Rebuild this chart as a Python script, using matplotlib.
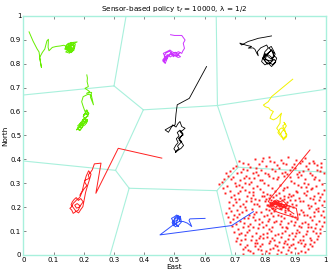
import numpy as np
import matplotlib
matplotlib.use("Agg")
import matplotlib.pyplot as plt

# ---------------- data ----------------
title = "Sensor-based policy t$_f$ = 10000, λ = 1/2"
x_ticks = [0, 0.1, 0.2, 0.3, 0.4, 0.5, 0.6, 0.7, 0.8, 0.9, 1]
y_ticks = [0, 0.1, 0.2, 0.3, 0.4, 0.5, 0.6, 0.7, 0.8, 0.9, 1]
tick_labels = ["0", "0.1", "0.2", "0.3", "0.4", "0.5", "0.6", "0.7", "0.8", "0.9", "1"]

# Voronoi cell boundaries (pairs of end points)
voronoi_segments = [
    ((0.34, 1.0), (0.30, 0.707)),
    ((0.0, 0.669), (0.30, 0.707)),
    ((0.30, 0.707), (0.397, 0.607)),
    ((0.397, 0.607), (0.642, 0.625)),
    ((0.642, 0.625), (0.638, 1.0)),
    ((0.642, 0.625), (1.0, 0.693)),
    ((0.397, 0.607), (0.305, 0.354)),
    ((0.0, 0.393), (0.305, 0.354)),
    ((0.305, 0.354), (0.35, 0.279)),
    ((0.35, 0.279), (0.287, 0.0)),
    ((0.35, 0.279), (0.64, 0.269)),
    ((0.64, 0.269), (0.711, 0.367)),
    ((0.711, 0.367), (1.0, 0.346)),
    ((0.711, 0.367), (0.642, 0.625)),
    ((0.64, 0.269), (0.69, 0.0)),
]

green1_x = [0.019, 0.032, 0.045, 0.052, 0.056, 0.060, 0.054, 0.063, 0.071, 0.078, 0.083, 0.082, 0.085,
            0.096, 0.109, 0.122, 0.134, 0.143, 0.137, 0.148, 0.140, 0.153, 0.159, 0.151, 0.164, 0.178,
            0.159, 0.148, 0.155, 0.145, 0.150, 0.160, 0.152, 0.146, 0.156, 0.162, 0.150, 0.142, 0.147,
            0.158, 0.168, 0.160, 0.152,
            0.145, 0.155, 0.149, 0.161, 0.170, 0.158, 0.151, 0.144, 0.139, 0.150, 0.163, 0.157, 0.146,
            0.153, 0.167, 0.172, 0.160, 0.149, 0.141, 0.152]
green1_y = [0.933, 0.895, 0.863, 0.849, 0.812, 0.784, 0.826, 0.847, 0.861, 0.895, 0.902, 0.868, 0.854,
            0.868, 0.872, 0.874, 0.877, 0.872, 0.861, 0.854, 0.849, 0.844, 0.861, 0.868, 0.881, 0.891,
            0.888, 0.877, 0.870, 0.862, 0.852, 0.858, 0.866, 0.858, 0.850, 0.864, 0.874, 0.866, 0.856,
            0.846, 0.876, 0.884, 0.872,
            0.867, 0.860, 0.853, 0.849, 0.870, 0.879, 0.886, 0.880, 0.866, 0.858, 0.862, 0.874, 0.870,
            0.848, 0.855, 0.881, 0.889, 0.883, 0.872, 0.864]

green2_x = [0.210, 0.212, 0.211, 0.215, 0.204, 0.220, 0.209, 0.226, 0.222, 0.232, 0.225, 0.214, 0.198,
            0.193, 0.198, 0.204, 0.210, 0.215, 0.206, 0.198, 0.204, 0.212, 0.209, 0.200, 0.193, 0.199,
            0.187, 0.182, 0.176, 0.183, 0.190, 0.196, 0.188, 0.180, 0.186, 0.194, 0.201, 0.195,
            0.205, 0.214, 0.208, 0.199, 0.210, 0.217, 0.206, 0.196, 0.203, 0.212, 0.200, 0.190, 0.185,
            0.192, 0.181, 0.178, 0.188, 0.196, 0.205, 0.211, 0.203, 0.194, 0.186, 0.180]
green2_y = [0.753, 0.740, 0.725, 0.704, 0.697, 0.683, 0.676, 0.680, 0.660, 0.628, 0.668, 0.672, 0.662,
            0.641, 0.621, 0.600, 0.607, 0.586, 0.590, 0.579, 0.570, 0.565, 0.552, 0.560, 0.551, 0.545,
            0.537, 0.530, 0.523, 0.530, 0.540, 0.548, 0.544, 0.528, 0.520, 0.532, 0.556, 0.562,
            0.575, 0.580, 0.595, 0.585, 0.604, 0.592, 0.571, 0.566, 0.558, 0.566, 0.547, 0.553, 0.541,
            0.533, 0.535, 0.527, 0.522, 0.537, 0.545, 0.558, 0.570, 0.560, 0.548, 0.540]

magenta_x = [0.487, 0.500, 0.524, 0.535, 0.529, 0.533, 0.527, 0.524, 0.513, 0.502, 0.492, 0.485, 0.474,
             0.463, 0.469, 0.461, 0.469, 0.474, 0.480, 0.488, 0.496, 0.505, 0.513, 0.520, 0.512, 0.500,
             0.490, 0.478, 0.470, 0.465,
             0.470, 0.478, 0.466, 0.472, 0.484, 0.493, 0.503, 0.510, 0.518, 0.509, 0.497, 0.486, 0.476,
             0.468, 0.462, 0.470]
magenta_y = [0.921, 0.918, 0.918, 0.899, 0.885, 0.864, 0.852, 0.843, 0.850, 0.843, 0.850, 0.857, 0.850,
             0.843, 0.829, 0.815, 0.801, 0.815, 0.836, 0.845, 0.829, 0.838, 0.836, 0.829, 0.826, 0.834,
             0.840, 0.832, 0.822, 0.808,
             0.815, 0.826, 0.832, 0.845, 0.852, 0.842, 0.848, 0.840, 0.846, 0.832, 0.838, 0.828, 0.838,
             0.820, 0.810, 0.804]

black1_x = [0.821, 0.800, 0.777, 0.760, 0.744, 0.722, 0.716, 0.730, 0.740, 0.755, 0.744, 0.760, 0.766,
            0.772, 0.777, 0.774, 0.785, 0.800, 0.805, 0.810, 0.799, 0.794, 0.788, 0.799, 0.810, 0.821,
            0.832, 0.838, 0.827, 0.821, 0.812, 0.804, 0.800, 0.815, 0.826, 0.818, 0.806, 0.795, 0.803,
            0.815, 0.823, 0.829,
            0.812, 0.820, 0.826, 0.833, 0.828, 0.819, 0.809, 0.800, 0.796, 0.805, 0.814, 0.824, 0.835,
            0.830, 0.818, 0.808, 0.798, 0.792, 0.801, 0.813, 0.822]
black1_y = [0.916, 0.911, 0.906, 0.899, 0.893, 0.878, 0.886, 0.880, 0.876, 0.872, 0.865, 0.866, 0.860,
            0.844, 0.833, 0.850, 0.866, 0.875, 0.878, 0.865, 0.850, 0.830, 0.809, 0.795, 0.802, 0.788,
            0.802, 0.823, 0.837, 0.858, 0.846, 0.832, 0.818, 0.812, 0.818, 0.830, 0.840, 0.822, 0.806,
            0.800, 0.812, 0.845,
            0.866, 0.872, 0.858, 0.840, 0.826, 0.820, 0.830, 0.842, 0.828, 0.816, 0.806, 0.796, 0.808,
            0.818, 0.806, 0.798, 0.812, 0.824, 0.836, 0.848, 0.856]

black2_x = [0.606, 0.549, 0.509, 0.505, 0.502, 0.488, 0.469, 0.480, 0.494, 0.505, 0.512, 0.518, 0.524,
            0.535, 0.526, 0.518, 0.529, 0.520, 0.513, 0.524, 0.517, 0.510, 0.515, 0.508, 0.503, 0.510,
            0.522, 0.530, 0.524, 0.515, 0.520, 0.528, 0.518, 0.509, 0.515, 0.506, 0.512, 0.504, 0.498,
            0.505]
black2_y = [0.788, 0.655, 0.628, 0.590, 0.544, 0.537, 0.523, 0.513, 0.544, 0.535, 0.550, 0.558, 0.537,
            0.530, 0.520, 0.516, 0.502, 0.495, 0.488, 0.474, 0.465, 0.455, 0.445, 0.438, 0.428, 0.436,
            0.446, 0.458, 0.470, 0.480, 0.492, 0.508, 0.522, 0.512, 0.498, 0.486, 0.470, 0.458, 0.444,
            0.432]

yellow_x = [0.891, 0.821, 0.810, 0.794, 0.800, 0.812, 0.816, 0.827, 0.820, 0.816, 0.827, 0.838, 0.844,
            0.854, 0.850, 0.849, 0.838, 0.844, 0.849, 0.856, 0.860, 0.871, 0.865, 0.858, 0.866,
            0.862, 0.870, 0.864, 0.855, 0.849, 0.842, 0.848, 0.856, 0.866, 0.872, 0.861, 0.852]
yellow_y = [0.735, 0.662, 0.641, 0.627, 0.620, 0.615, 0.607, 0.600, 0.585, 0.572, 0.565, 0.572, 0.579,
            0.593, 0.575, 0.551, 0.530, 0.520, 0.509, 0.495, 0.481, 0.495, 0.523, 0.540, 0.548,
            0.555, 0.540, 0.528, 0.515, 0.500, 0.512, 0.526, 0.532, 0.515, 0.502, 0.488, 0.495]

red1_x = [0.458, 0.314, 0.240, 0.257, 0.235, 0.228, 0.222, 0.215, 0.218, 0.208, 0.202, 0.210, 0.200,
          0.193, 0.188, 0.182, 0.176, 0.171, 0.165, 0.160, 0.154, 0.160, 0.165, 0.172, 0.182, 0.188,
          0.178, 0.170, 0.176, 0.185,
          0.192, 0.198, 0.190, 0.182, 0.175, 0.168, 0.162, 0.158, 0.166, 0.174, 0.183, 0.190, 0.197,
          0.206, 0.212, 0.218, 0.224, 0.216, 0.208, 0.201, 0.195, 0.187]
red1_y = [0.405, 0.446, 0.258, 0.384, 0.381, 0.356, 0.345, 0.335, 0.320, 0.315, 0.307, 0.290, 0.275,
          0.260, 0.244, 0.235, 0.230, 0.223, 0.216, 0.202, 0.195, 0.188, 0.174, 0.180, 0.188, 0.205,
          0.215, 0.208, 0.196, 0.200,
          0.212, 0.222, 0.236, 0.228, 0.240, 0.232, 0.222, 0.210, 0.197, 0.183, 0.176, 0.190, 0.202,
          0.262, 0.288, 0.312, 0.338, 0.352, 0.330, 0.300, 0.268, 0.250]

blue_x = [0.761, 0.689, 0.452, 0.496, 0.502, 0.513, 0.496, 0.490, 0.500, 0.507, 0.518, 0.510, 0.498,
          0.505, 0.512, 0.520, 0.515, 0.506, 0.498, 0.492, 0.500, 0.510, 0.519, 0.523, 0.514, 0.503,
          0.495, 0.501, 0.511, 0.518, 0.529, 0.543, 0.557, 0.548, 0.551, 0.575, 0.601]
blue_y = [0.181, 0.123, 0.084, 0.126, 0.133, 0.119, 0.140, 0.153, 0.160, 0.167, 0.160, 0.147, 0.138,
          0.128, 0.160, 0.150, 0.140, 0.132, 0.122, 0.136, 0.148, 0.158, 0.162, 0.138, 0.125, 0.118,
          0.130, 0.155, 0.165, 0.140, 0.140, 0.133, 0.119, 0.145, 0.151, 0.152, 0.153]

red2_x = [0.948, 0.821, 0.810, 0.825, 0.837, 0.855, 0.870, 0.890, 0.903, 0.909, 0.890, 0.870, 0.850,
          0.837, 0.825, 0.815, 0.830, 0.845, 0.860, 0.850, 0.835, 0.822, 0.840, 0.856, 0.868,
          0.828, 0.838, 0.848, 0.858, 0.866, 0.874, 0.862, 0.848, 0.834, 0.822, 0.816, 0.830, 0.845,
          0.858, 0.880, 0.895]
red2_y = [0.439, 0.244, 0.223, 0.215, 0.223, 0.212, 0.209, 0.200, 0.195, 0.153, 0.160, 0.167, 0.175,
          0.181, 0.190, 0.205, 0.215, 0.210, 0.200, 0.190, 0.198, 0.210, 0.220, 0.205, 0.195,
          0.226, 0.230, 0.222, 0.228, 0.218, 0.205, 0.198, 0.205, 0.214, 0.202, 0.212, 0.224, 0.216,
          0.211, 0.185, 0.172]

sensor_points = [
    (0.765, 0.402), (0.812, 0.408), (0.853, 0.396), (0.874, 0.411), (0.902, 0.399), (0.931, 0.406),
    (0.958, 0.394), (0.788, 0.391), (0.744, 0.381),
    (0.702, 0.372), (0.726, 0.386), (0.751, 0.366), (0.778, 0.379), (0.803, 0.371), (0.829, 0.388),
    (0.846, 0.364), (0.868, 0.382), (0.889, 0.369), (0.914, 0.384), (0.936, 0.373), (0.962, 0.386),
    (0.985, 0.368), (0.725, 0.358),
    (0.683, 0.352), (0.708, 0.341), (0.739, 0.356), (0.761, 0.344), (0.786, 0.355), (0.809, 0.338),
    (0.834, 0.351), (0.857, 0.343), (0.881, 0.356), (0.906, 0.339), (0.925, 0.352), (0.949, 0.344),
    (0.972, 0.357), (0.993, 0.341),
    (0.664, 0.318), (0.692, 0.327), (0.716, 0.312), (0.738, 0.331), (0.764, 0.321), (0.791, 0.314),
    (0.812, 0.329), (0.838, 0.316), (0.862, 0.332), (0.884, 0.311), (0.909, 0.324), (0.932, 0.319),
    (0.955, 0.333), (0.978, 0.313), (0.752, 0.306),
    (0.648, 0.298), (0.673, 0.289), (0.701, 0.302), (0.724, 0.284), (0.746, 0.296), (0.772, 0.287),
    (0.797, 0.299), (0.823, 0.282), (0.849, 0.294), (0.871, 0.286), (0.896, 0.301), (0.918, 0.283),
    (0.943, 0.297), (0.967, 0.288), (0.989, 0.296),
    (0.682, 0.268), (0.709, 0.259), (0.733, 0.272), (0.758, 0.262), (0.784, 0.274), (0.806, 0.257),
    (0.831, 0.266), (0.858, 0.271), (0.879, 0.256), (0.902, 0.269), (0.927, 0.261), (0.951, 0.274),
    (0.976, 0.258), (0.994, 0.270),
    (0.688, 0.244), (0.714, 0.236), (0.741, 0.248), (0.766, 0.233), (0.789, 0.246), (0.812, 0.239),
    (0.836, 0.251), (0.861, 0.234), (0.884, 0.247), (0.911, 0.238), (0.936, 0.249), (0.958, 0.232),
    (0.982, 0.243),
    (0.703, 0.221), (0.727, 0.213), (0.752, 0.226), (0.774, 0.212), (0.798, 0.224), (0.808, 0.211),
    (0.816, 0.219), (0.824, 0.207), (0.831, 0.222), (0.839, 0.214), (0.846, 0.203), (0.853, 0.218),
    (0.862, 0.209), (0.871, 0.221), (0.889, 0.213), (0.916, 0.224), (0.942, 0.211), (0.965, 0.219),
    (0.988, 0.209),
    (0.681, 0.196), (0.706, 0.188), (0.733, 0.199), (0.757, 0.191), (0.781, 0.203), (0.803, 0.194),
    (0.821, 0.198), (0.834, 0.191), (0.848, 0.197), (0.866, 0.189), (0.893, 0.201), (0.918, 0.187),
    (0.944, 0.198), (0.968, 0.192), (0.992, 0.186),
    (0.672, 0.174), (0.698, 0.166), (0.723, 0.178), (0.748, 0.169), (0.771, 0.181), (0.796, 0.163),
    (0.819, 0.176), (0.843, 0.168), (0.867, 0.179), (0.889, 0.164), (0.913, 0.173), (0.938, 0.166),
    (0.961, 0.178), (0.984, 0.169),
    (0.694, 0.151), (0.718, 0.143), (0.742, 0.154), (0.767, 0.146), (0.789, 0.139), (0.813, 0.152),
    (0.837, 0.141), (0.861, 0.155), (0.884, 0.143), (0.906, 0.151), (0.931, 0.139), (0.955, 0.148),
    (0.979, 0.142),
    (0.703, 0.128), (0.726, 0.119), (0.751, 0.131), (0.776, 0.114), (0.801, 0.126), (0.824, 0.117),
    (0.848, 0.129), (0.872, 0.113), (0.894, 0.124), (0.919, 0.116), (0.943, 0.128), (0.966, 0.112),
    (0.988, 0.123),
    (0.698, 0.098), (0.721, 0.091), (0.747, 0.103), (0.771, 0.094), (0.793, 0.087), (0.818, 0.099),
    (0.842, 0.089), (0.866, 0.102), (0.887, 0.092), (0.912, 0.097), (0.935, 0.086), (0.959, 0.099),
    (0.981, 0.091),
    (0.707, 0.073), (0.732, 0.066), (0.756, 0.078), (0.781, 0.069), (0.806, 0.076), (0.829, 0.063),
    (0.853, 0.074), (0.876, 0.067), (0.899, 0.079), (0.924, 0.064), (0.948, 0.072), (0.972, 0.066),
    (0.716, 0.048), (0.741, 0.041), (0.766, 0.052), (0.789, 0.044), (0.814, 0.051), (0.838, 0.039),
    (0.861, 0.049), (0.884, 0.042), (0.907, 0.053), (0.931, 0.045), (0.956, 0.038),
    (0.726, 0.024), (0.751, 0.016), (0.777, 0.027), (0.802, 0.018), (0.826, 0.029), (0.851, 0.013),
    (0.874, 0.022), (0.897, 0.031), (0.918, 0.017), (0.941, 0.026), (0.791, 0.006), (0.868, 0.004),
    (0.727, 0.006),
    (0.712, 0.395), (0.793, 0.404), (0.839, 0.377), (0.921, 0.395), (0.971, 0.377), (0.695, 0.363),
    (0.768, 0.349), (0.821, 0.361), (0.866, 0.348), (0.897, 0.362), (0.943, 0.359), (0.980, 0.350),
    (0.677, 0.331), (0.729, 0.322), (0.776, 0.336), (0.826, 0.323), (0.873, 0.339), (0.919, 0.333),
    (0.966, 0.327), (0.661, 0.281), (0.714, 0.291), (0.761, 0.278), (0.809, 0.291), (0.862, 0.279),
    (0.907, 0.291), (0.955, 0.282), (0.697, 0.252), (0.746, 0.263), (0.796, 0.248), (0.847, 0.260),
    (0.891, 0.252), (0.939, 0.267), (0.987, 0.253), (0.699, 0.232), (0.752, 0.239), (0.801, 0.232),
    (0.826, 0.241), (0.849, 0.237), (0.874, 0.241), (0.899, 0.230), (0.947, 0.238), (0.716, 0.203),
    (0.763, 0.214), (0.811, 0.205), (0.827, 0.196), (0.843, 0.210), (0.857, 0.199), (0.878, 0.204),
    (0.903, 0.211), (0.953, 0.204), (0.976, 0.197), (0.687, 0.184), (0.737, 0.187), (0.786, 0.179),
    (0.829, 0.183), (0.876, 0.187), (0.924, 0.181), (0.973, 0.184), (0.706, 0.159), (0.758, 0.157),
    (0.806, 0.169), (0.853, 0.161), (0.899, 0.157), (0.947, 0.160), (0.993, 0.157), (0.684, 0.139),
    (0.731, 0.134), (0.779, 0.129), (0.829, 0.136), (0.874, 0.134), (0.921, 0.135), (0.969, 0.131),
    (0.711, 0.108), (0.761, 0.116), (0.812, 0.108), (0.857, 0.117), (0.904, 0.106), (0.953, 0.116),
    (0.734, 0.082), (0.784, 0.081), (0.833, 0.083), (0.879, 0.083), (0.926, 0.081), (0.974, 0.081),
    (0.719, 0.061), (0.768, 0.064), (0.817, 0.059), (0.866, 0.058), (0.914, 0.061), (0.962, 0.056),
    (0.734, 0.033), (0.783, 0.036), (0.831, 0.041), (0.879, 0.034), (0.927, 0.036), (0.761, 0.008),
    (0.812, 0.009), (0.908, 0.008), (0.838, 0.003),
    (0.658, 0.305), (0.671, 0.342), (0.688, 0.318), (0.703, 0.287), (0.719, 0.349), (0.734, 0.302),
    (0.748, 0.321), (0.771, 0.363), (0.784, 0.312), (0.799, 0.343), (0.817, 0.392), (0.842, 0.328),
    (0.858, 0.386), (0.881, 0.325), (0.894, 0.382), (0.912, 0.348), (0.928, 0.302), (0.946, 0.386),
    (0.961, 0.316), (0.983, 0.383), (0.668, 0.258), (0.679, 0.221), (0.692, 0.207), (0.718, 0.266),
    (0.736, 0.226), (0.759, 0.249), (0.779, 0.229), (0.793, 0.262), (0.817, 0.252), (0.863, 0.246),
    (0.881, 0.229), (0.905, 0.262), (0.924, 0.227), (0.934, 0.286), (0.962, 0.248), (0.978, 0.229),
    (0.996, 0.224), (0.676, 0.158), (0.689, 0.121), (0.713, 0.171), (0.729, 0.154), (0.744, 0.121),
    (0.762, 0.172), (0.778, 0.149), (0.794, 0.116), (0.809, 0.141), (0.826, 0.162), (0.852, 0.142),
    (0.869, 0.119), (0.882, 0.171), (0.897, 0.139), (0.913, 0.121), (0.928, 0.168), (0.941, 0.118),
    (0.962, 0.163), (0.981, 0.108), (0.994, 0.139), (0.704, 0.059), (0.713, 0.088), (0.739, 0.097),
    (0.753, 0.062), (0.774, 0.051), (0.792, 0.073), (0.807, 0.094), (0.822, 0.071), (0.846, 0.056),
    (0.857, 0.093), (0.871, 0.046), (0.893, 0.068), (0.903, 0.094), (0.919, 0.052), (0.937, 0.099),
    (0.951, 0.061), (0.968, 0.092), (0.742, 0.021), (0.766, 0.036), (0.786, 0.022), (0.817, 0.027),
    (0.842, 0.021), (0.859, 0.032), (0.884, 0.012), (0.893, 0.046), (0.931, 0.012), (0.947, 0.048),
    (0.806, 0.211), (0.818, 0.229), (0.835, 0.205), (0.842, 0.226), (0.851, 0.193), (0.868, 0.214),
    (0.812, 0.189), (0.857, 0.231), (0.826, 0.213), (0.874, 0.196),
]

# ---------------- style ----------------
VOR = "#a8f0dc"
GREEN = "#66ee00"
MAGENTA = "#cc33ff"
YELLOW = "#f2f200"
RED = "#ff2020"
BLUE = "#3050ff"
BLACK = "#000000"

fig = plt.figure(figsize=(3.33, 2.73), dpi=100)
ax = fig.add_axes([0.070, 0.066, 0.908, 0.876])

for (p0, p1) in voronoi_segments:
    ax.plot([p0[0], p1[0]], [p0[1], p1[1]], color=VOR, lw=0.8, zorder=1)

lw = 0.7
ax.plot(green1_x, green1_y, color=GREEN, lw=lw, zorder=3)
ax.plot(green2_x, green2_y, color=GREEN, lw=lw, zorder=3)
ax.plot(magenta_x, magenta_y, color=MAGENTA, lw=lw, zorder=3)
ax.plot(black1_x, black1_y, color=BLACK, lw=0.6, zorder=3)
ax.plot(black2_x, black2_y, color=BLACK, lw=0.6, zorder=3)
ax.plot(yellow_x, yellow_y, color=YELLOW, lw=lw, zorder=3)
ax.plot(red1_x, red1_y, color=RED, lw=lw, zorder=3)
ax.plot(blue_x, blue_y, color=BLUE, lw=lw, zorder=3)
ax.plot(red2_x, red2_y, color=RED, lw=lw, zorder=3)

sp = np.array(sensor_points)
ax.plot(sp[:, 0], sp[:, 1], linestyle="none", marker="s", markersize=1.4,
        markeredgewidth=0, color=RED, zorder=2)

ax.set_xlim(0, 1)
ax.set_ylim(0, 1)
ax.set_xticks(x_ticks)
ax.set_yticks(y_ticks)
ax.set_xticklabels(tick_labels)
ax.set_yticklabels(tick_labels)
ax.tick_params(direction="in", length=2, width=0.5, color="#555555",
               labelsize=5, pad=1.5, top=True, right=True)
for s in ax.spines.values():
    s.set_color(VOR)
    s.set_linewidth(1.0)

ax.set_title(title, fontsize=5.2, pad=3)
ax.set_xlabel("East", fontsize=5.2, labelpad=0.5)
ax.set_ylabel("North", fontsize=5.2, labelpad=1)

fig.savefig("out.png", dpi=100)
